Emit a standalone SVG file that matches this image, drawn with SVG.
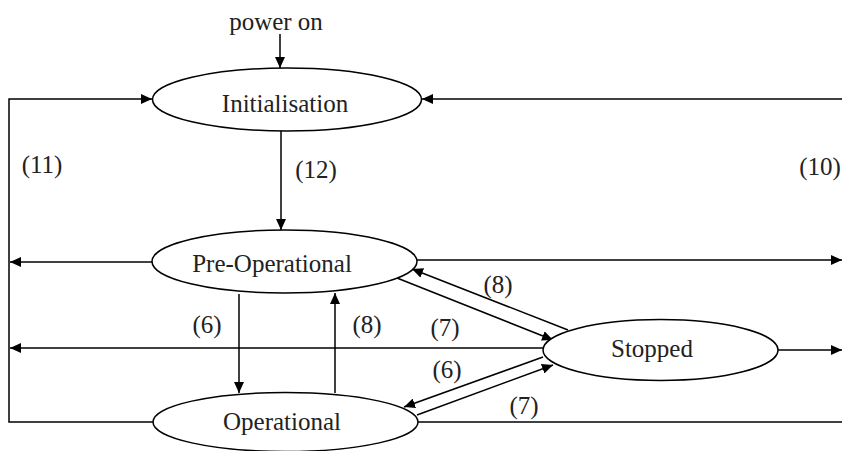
<svg xmlns="http://www.w3.org/2000/svg" width="842" height="451" viewBox="0 0 842 451">
<defs>
<marker id="ah" markerWidth="11" markerHeight="10" refX="11" refY="5" orient="auto" markerUnits="userSpaceOnUse">
<path d="M0,0 L11,5 L0,10 Z" fill="#000"/>
</marker>
<style>
.n ellipse{fill:#fff;stroke:#000;stroke-width:1.5}
text{font-family:"Liberation Serif","Times New Roman",serif;font-size:25px;fill:#222;text-anchor:middle}
.c line,.c polyline{stroke:#000;stroke-width:1.5;fill:none}
.a{marker-end:url(#ah)}
</style>
</defs>
<rect width="842" height="451" fill="#fff"/>
<g class="c" id="connectors">
<line class="a" x1="280" y1="34" x2="280" y2="68"/>
<polyline class="a" points="153,422 9,422 9,99 152,99"/>
<line class="a" x1="842" y1="99" x2="422" y2="99"/>
<line class="a" x1="281" y1="131" x2="281" y2="230"/>
<line class="a" x1="152" y1="262" x2="10" y2="262"/>
<line class="a" x1="417" y1="260" x2="842" y2="260"/>
<line class="a" x1="239" y1="294" x2="239" y2="393"/>
<line class="a" x1="335" y1="393" x2="335" y2="293"/>
<line class="a" x1="543" y1="348" x2="10" y2="348"/>
<line class="a" x1="778" y1="350" x2="842" y2="350"/>
<line x1="418" y1="422" x2="842" y2="422"/>
<line class="a" x1="397" y1="278" x2="553" y2="340"/>
<line class="a" x1="568" y1="330" x2="412" y2="269"/>
<line class="a" x1="543" y1="357" x2="404" y2="407"/>
<line class="a" x1="417" y1="415" x2="553" y2="365"/>
</g>
<text x="276" y="30">power on</text>
<g class="n" id="initialisation">
<ellipse cx="287" cy="99.5" rx="134.5" ry="31.5"/>
<text x="285" y="112">Initialisation</text>
</g>
<g class="n" id="preoperational">
<ellipse cx="284.5" cy="261.5" rx="132.5" ry="31.5"/>
<text x="272" y="272">Pre-Operational</text>
</g>
<g class="n" id="operational">
<ellipse cx="285.5" cy="422" rx="132.5" ry="29.5"/>
<text x="282" y="430">Operational</text>
</g>
<g class="n" id="stopped">
<ellipse cx="660.5" cy="350" rx="117.5" ry="30.5"/>
<text x="652" y="357">Stopped</text>
</g>
<g id="labels">
<text x="42" y="173">(11)</text>
<text x="820" y="175">(10)</text>
<text x="316" y="178">(12)</text>
<text x="207" y="333">(6)</text>
<text x="367" y="333">(8)</text>
<text x="445" y="336">(7)</text>
<text x="498" y="293">(8)</text>
<text x="447" y="378">(6)</text>
<text x="524" y="414">(7)</text>
</g>
</svg>
